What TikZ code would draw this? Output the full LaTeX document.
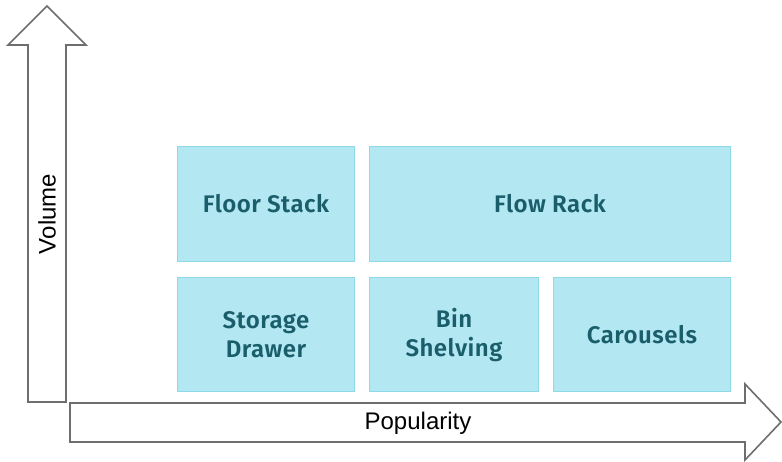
\documentclass[tikz,border=0pt]{standalone}
\usepackage{fontspec}
\setmainfont{Liberation Sans}
\newfontfamily\boxfont{Fira Sans SemiBold}[LetterSpace=2]
\definecolor{boxfill}{HTML}{B3E8F3}
\definecolor{boxline}{HTML}{8ED9E6}
\definecolor{boxtext}{HTML}{1B5E6B}
\definecolor{arrline}{HTML}{6E6E6E}
\begin{document}
\begin{tikzpicture}[x=1pt,y=-1pt,
  cell/.style={draw=boxline,fill=boxfill,line width=1pt,text=boxtext,align=center,
    font=\boxfont\fontsize{24}{29}\selectfont,inner sep=0pt,anchor=north west},
  bigarrow/.style={draw=arrline,line width=1.6pt,fill=white,line join=miter}]
\useasboundingbox (0,0) rectangle (782,461);
% vertical arrow
\draw[bigarrow] (28,402) -- (28,45) -- (8,45) -- (47,6) -- (86,45) -- (66,45) -- (66,402) -- cycle;
% horizontal arrow
\draw[bigarrow] (70,403) -- (745,403) -- (745,384) -- (781,422) -- (745,460) -- (745,442) -- (70,442) -- cycle;
\node[font=\fontsize{24}{28}\selectfont,rotate=90] (vol) at (47,214) {Volume};
\node[font=\fontsize{24}{28}\selectfont] (pop) at (418,423) {Popularity};
\node[cell,minimum width=177pt,minimum height=115pt] (fs) at (177,146) {Floor Stack};
\node[cell,minimum width=361pt,minimum height=115pt] (fr) at (369,146) {Flow Rack};
\node[cell,minimum width=177pt,minimum height=114pt] (sd) at (177,277) {Storage\\Drawer};
\node[cell,minimum width=169pt,minimum height=114pt] (bs) at (369,277) {Bin\\Shelving};
\node[cell,minimum width=177pt,minimum height=114pt] (ca) at (553,277) {Carousels};
\end{tikzpicture}
\end{document}
